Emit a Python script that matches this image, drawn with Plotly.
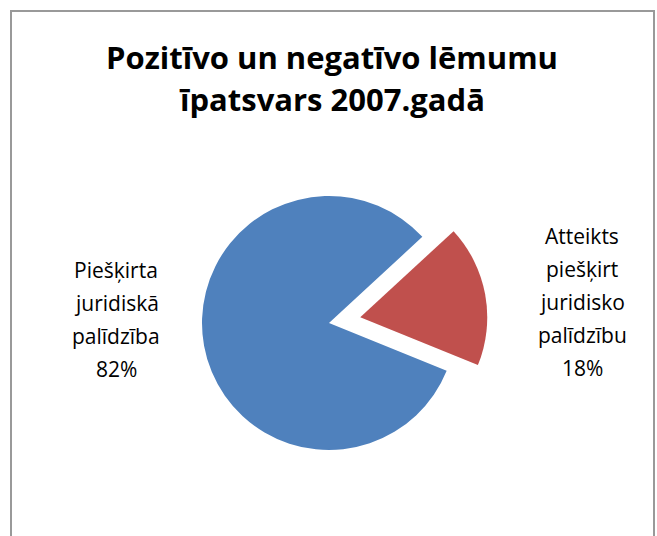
import plotly.graph_objects as go

# ---- data ----
labels = ["Piešķirta juridiskā palīdzība", "Atteikts piešķirt juridisko palīdzību"]
values = [82, 18]
colors = ["#4F81BD", "#C0504D"]
pulls = [0, 0.25]
title_lines = ["Pozitīvo un negatīvo lēmumu", "īpatsvars 2007.gadā"]

W, H = 657, 536

def px_x(x):
    return x / W

def px_y(y):
    return 1 - y / H

# pie geometry: centre (329, 323), radius 127, pull 0.25 -> domain side 2*127*1.25
cx, cy, r = 329, 323, 127
half = r * (1 + max(pulls))

fig = go.Figure()
fig.add_trace(go.Pie(
    labels=labels,
    values=values,
    marker=dict(colors=colors, line=dict(width=0)),
    pull=pulls,
    sort=False,
    direction="clockwise",
    rotation=112.1,
    textinfo="none",
    hoverinfo="label+percent",
    showlegend=False,
    domain=dict(x=[px_x(cx - half), px_x(cx + half)],
                y=[px_y(cy + half), px_y(cy - half)]),
))

FONT = "Open Sans"
annotations = []
# title lines
title_y = [57, 99]
for line, yy in zip(title_lines, title_y):
    annotations.append(dict(
        text=line, x=px_x(332), y=px_y(yy), xref="paper", yref="paper",
        showarrow=False, xanchor="center", yanchor="middle",
        font=dict(family=FONT, size=31, color="#000000", weight="bold"),
    ))

# data labels, one line per word plus percentage
total = sum(values)
label_pos = [(116, 270), (582, 236)]
for lab, val, (lx, ly) in zip(labels, values, label_pos):
    lines = lab.split(" ") + [f"{round(val / total * 100)}%"]
    for i, line in enumerate(lines):
        annotations.append(dict(
            text=line, x=px_x(lx), y=px_y(ly + i * 33), xref="paper", yref="paper",
            showarrow=False, xanchor="center", yanchor="middle",
            font=dict(family=FONT, size=21, color="#000000"),
        ))

fig.update_layout(
    width=W, height=H,
    margin=dict(l=0, r=0, t=0, b=0),
    paper_bgcolor="#FFFFFF",
    plot_bgcolor="#FFFFFF",
    annotations=annotations,
    shapes=[dict(
        type="path", xref="paper", yref="paper",
        path=f"M {px_x(11)},{px_y(540)} L {px_x(11)},{px_y(11)} L {px_x(654)},{px_y(11)} L {px_x(654)},{px_y(540)}",
        line=dict(color="#999999", width=2),
    )],
)

fig.write_html("out.html", config={"displayModeBar": False},
               post_script="document.body.style.margin='0';document.body.style.overflow='hidden';")
